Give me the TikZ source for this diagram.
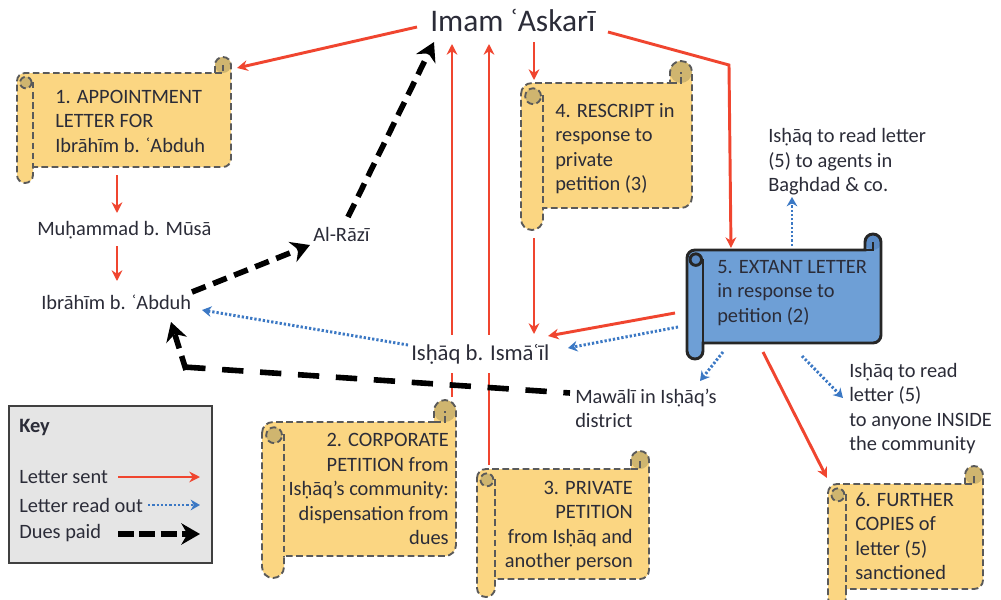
\documentclass[tikz,border=0pt]{standalone}
\usepackage{fontspec}
\setmainfont{Carlito}
\usetikzlibrary{arrows.meta}
\definecolor{txt}{HTML}{2B2C38}
\definecolor{redl}{HTML}{F0452F}
\definecolor{bluel}{HTML}{3B78C4}
\definecolor{parch}{HTML}{FBD682}
\definecolor{parchd}{HTML}{CFB56F}
\definecolor{skyf}{HTML}{6E9FD6}
\definecolor{skyd}{HTML}{5A8AC4}
\definecolor{dashg}{HTML}{5A5A5A}
\tikzset{
  lab/.style={inner sep=0pt,text=txt,align=left,font=\fontsize{15.3}{18.4}\selectfont},
  labr/.style={lab,align=right},
  sent/.style={draw=redl,line width=2.2pt,-{Stealth[length=8pt,width=8pt]}},
  readout/.style={draw=bluel,line width=2.2pt,dash pattern=on 1.7pt off 1.5pt,-{Stealth[length=7pt,width=8pt]}},
  duesline/.style={draw=black,line width=4.2pt,dash pattern=on 16pt off 12.5pt},
  dues/.style={duesline,-{Stealth[length=14pt,width=16pt]}},
  duesshort/.style={dues,dash pattern=on 11pt off 6pt},
  parchline/.style={draw=dashg,line width=1.4pt,dash pattern=on 5pt off 2.6pt},
  blueline/.style={draw=black!85,line width=2.2pt}
}
% fill, curl colour, line style, L, T, R, B, w
\newcommand\scrollshape[8]{%
  \pgfmathsetlengthmacro\rr{#8*0.375}%
  \pgfmathsetmacro\rp{#8/2}%
  \def\outline{(#4,{#5+\rp}) arc[start angle=180,end angle=90,radius=\rr]
    -- ({#6-#8},#5) -- ({#6-#8},{#5-\rp}) arc[start angle=180,end angle=0,radius=\rr]
    -- (#6,{#7-\rp}) arc[start angle=0,end angle=-90,radius=\rr]
    -- ({#4+#8},#7) -- ({#4+#8},{#7+\rp}) arc[start angle=0,end angle=-180,radius=\rr] -- cycle}%
  \fill[#1] \outline;
  \fill[#2] ({#6-\rp},{#5-\rp}) circle[radius=\rr];
  \fill[#2] ({#4+#8*0.55},{#5+#8*0.6}) circle[radius=\rr*0.72];
  \draw[#3] \outline;
  \draw[#3] ({#4+#8},{#5+#8*0.55}) -- ({#4+#8},#7);
  \draw[#3] ({#4+#8*0.55},{#5+#8*0.6}) circle[radius=\rr*0.72];
  \draw[#3] ({#6-#8},#5) -- ({#6-\rp},#5) -- ({#6-\rp},{#5-\rp});
}
\begin{document}
\begin{tikzpicture}[x=0.75pt,y=-0.75pt]
\useasboundingbox (0,0) rectangle (1001,600);
\clip (0,0) rectangle (1001,600);
\fill[white] (0,0) rectangle (1001,600);
% scrolls
\scrollshape{parch}{parchd}{parchline}{17}{73}{231}{167}{16}
\scrollshape{parch}{parchd}{parchline}{521}{83}{692}{208}{22}
\scrollshape{parch}{parchd}{parchline}{262}{422}{456}{556}{22}
\scrollshape{parch}{parchd}{parchline}{477}{469}{649}{579}{18}
\scrollshape{parch}{parchd}{parchline}{828}{484}{983}{589}{18}
\scrollshape{skyf}{skyd}{blueline}{687}{250}{881}{343}{16}
% free ends of connectors
\coordinate (imamL) at (417,27);
\coordinate (imamB1) at (452,44);
\coordinate (imamB2) at (489,44);
\coordinate (imamB3) at (534,42);
\coordinate (imamB0) at (434,42);
\coordinate (imamR) at (608,32);
\coordinate (imamK) at (729,65);
\coordinate (s1tip) at (237,68);
\coordinate (s1b) at (117,175);
\coordinate (muT) at (117,213);
\coordinate (muB) at (117,246);
\coordinate (ibT) at (117,281);
\coordinate (s4t) at (534,80);
\coordinate (s4b) at (534,238);
\coordinate (isT) at (534,334);
\coordinate (isR) at (548,336);
\coordinate (isRb) at (568,348);
\coordinate (s5top) at (731,248);
\coordinate (s5l) at (675,313);
\coordinate (s5lb) at (678,327);
\coordinate (s5u) at (792,246);
\coordinate (upTip) at (792,197);
\coordinate (s5dl) at (723,352);
\coordinate (mawTip) at (700,381);
\coordinate (s5dr) at (802,356);
\coordinate (lowTip) at (843,398);
\coordinate (s5d) at (763,352);
\coordinate (s6t) at (827,478);
\coordinate (s2t) at (452,397);
\coordinate (s3t) at (489,465);
\coordinate (ibTipB) at (202,310);
\coordinate (isL) at (408,345);
\coordinate (ibR) at (192,292);
\coordinate (razB) at (310,245);
\coordinate (razT) at (348,217);
\coordinate (mawS) at (570,393);
\coordinate (duesK) at (184,367);
\coordinate (duesK2) at (186,370);
\coordinate (ibB) at (171,322);
% connectors behind the label
\draw[sent] (s2t) -- (imamB1);
\draw[sent] (s3t) -- (imamB2);
% labels
\node[lab,anchor=west,fill=white,minimum height=28.5pt,font=\fontsize{17}{18.4}\selectfont] (ishaq) at (411,354) {Isḥāq b. Ismāʿīl};
\node[lab,anchor=west,font=\fontsize{23.6}{26}\selectfont] (imam) at (430,20) {Imam ʿAskarī};
\node[lab,anchor=west] (muh) at (37,230) {Muḥammad b. Mūsā};
\node[lab,anchor=west] (ibr) at (41,302) {Ibrāhīm b. ʿAbduh};
\node[lab,anchor=west] (raz) at (313,234) {Al-Rāzī};
\node[lab,anchor=west] (maw) at (575,408.5) {Mawālī in Isḥāq’s\\district};
\node[lab,anchor=west] (up) at (768,162) {Isḥāq to read letter\\(5) to agents in\\Baghdad \& co.};
\node[lab,anchor=west] (low) at (849,408.5) {Isḥāq to read\\letter (5)\\to anyone INSIDE\\the community};
% scroll texts
\node[lab,anchor=west] (t1) at (55,121) {1. APPOINTMENT\\LETTER FOR\\Ibrāhīm b. ʿAbduh};
\node[lab,anchor=west] (t4) at (555,148.5) {4. RESCRIPT in\\response to\\private\\petition (3)};
\node[labr,anchor=east] (t2) at (449,489) {2. CORPORATE\\PETITION from\\Isḥāq’s community:\\dispensation from\\dues};
\node[labr,anchor=east] (t3) at (633,526) {3. PRIVATE\\PETITION\\from Isḥāq and\\another person};
\node[lab,anchor=west] (t5) at (717,293) {5. EXTANT LETTER\\in response to\\petition (2)};
\node[lab,anchor=west] (t6) at (855,536) {6. FURTHER\\COPIES of\\letter (5)\\sanctioned};
% red connectors
\draw[sent] (imamL) -- (s1tip);
\draw[sent] (s1b) -- (muT);
\draw[sent] (muB) -- (ibT);
\draw[sent] (imamB3) -- (s4t);
\draw[sent] (s4b) -- (isT);
\draw[sent] (imamR) -- (imamK) -- (s5top);
\draw[sent] (s5l) -- (isR);
\draw[sent] (s5d) -- (s6t);
% blue connectors
\draw[readout] (isL) -- (ibTipB);
\draw[readout] (s5lb) -- (isRb);
\draw[readout] (s5u) -- (upTip);
\draw[readout] (s5dl) -- (mawTip);
\draw[readout] (s5dr) -- (lowTip);
% black connectors
\draw[duesshort] (ibR) -- (razB);
\draw[duesshort] (razT) -- (imamB0);
\draw[duesline,dash phase=11pt] (mawS) -- (duesK);
\draw[duesshort] (duesK2) -- (ibB);
% key
\node[draw=black!75,fill=black!10,line width=1.6pt,minimum width=152pt,minimum height=118pt,inner sep=0pt,anchor=north west] (keybox) at (8,405) {};
\node[lab,anchor=west,font=\fontsize{15.3}{18}\bfseries\selectfont] (keyt) at (19,427) {Key};
\node[lab,anchor=west] (k1) at (19,477) {Letter sent};
\node[lab,anchor=west] (k2) at (19,505) {Letter read out};
\node[lab,anchor=west] (k3) at (19,533) {Dues paid};
\coordinate (k1a) at (118,477); \coordinate (k1b) at (200,477);
\coordinate (k2a) at (148,505); \coordinate (k2b) at (200,505);
\coordinate (k3a) at (118,534); \coordinate (k3b) at (200,534);
\draw[sent] (k1a) -- (k1b);
\draw[readout] (k2a) -- (k2b);
\draw[dues,dash pattern=on 12pt off 4pt] (k3a) -- (k3b);
\end{tikzpicture}
\end{document}
